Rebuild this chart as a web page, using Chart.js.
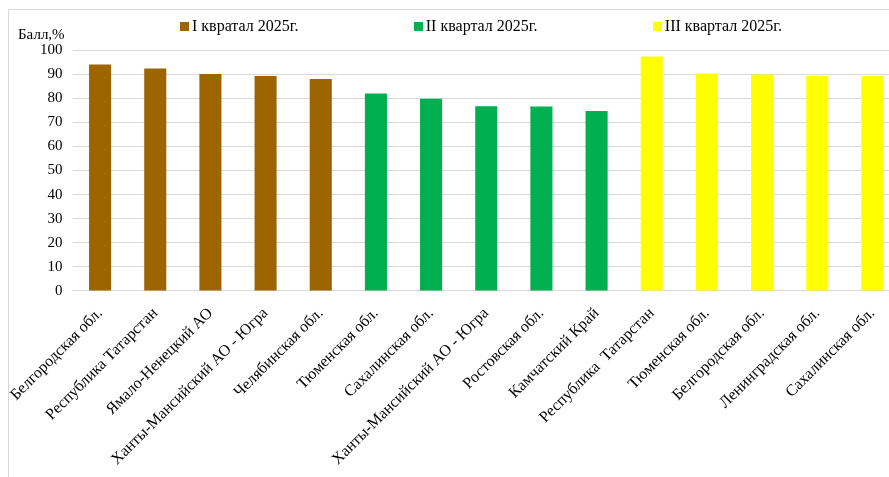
<!DOCTYPE html>
<html lang="ru">
<head>
<meta charset="utf-8">
<title>Балл по регионам, 2025</title>
<script src="https://cdn.jsdelivr.net/npm/chart.js@4"></script>
<style>
  html, body { margin: 0; padding: 0; background: #fff; overflow: hidden; }
  body { width: 889px; height: 477px; position: relative; font-family: "Liberation Serif", "DejaVu Serif", serif; }
  #frame { position: absolute; left: 8px; top: 9px; right: 0; bottom: 0; border-left: 1px solid #d9d9d9; border-top: 1px solid #d9d9d9; }
  #wrap { position: absolute; left: 0; top: 0; width: 905px; height: 477px; }
  #unit { position: absolute; left: 18px; top: 26px; font-size: 15px; color: #000; }
  #legend { position: absolute; left: 180px; width: 602px; top: 17px; display: flex; justify-content: space-between; font-size: 16px; color: #000; }
  #legend .item { display: flex; align-items: center; white-space: nowrap; }
  #legend .box { width: 9px; height: 9px; margin-right: 3px; }
</style>
</head>
<body>
<div id="frame"></div>
<div id="wrap"><canvas id="chart" width="905" height="477"></canvas></div>
<div id="unit">Балл,%</div>
<div id="legend"></div>
<script>
// Регионы по кварталам
const categories = [
  "Белгородская обл.", "Республика Татарстан", "Ямало-Ненецкий АО", "Ханты-Мансийский АО - Югра", "Челябинская обл.",
  "Тюменская обл.", "Сахалинская обл.", "Ханты-Мансийский АО - Югра", "Ростовская обл.", "Камчатский Край",
  "Республика  Татарстан", "Тюменская обл.", "Белгородская обл.", "Ленинградская обл.", "Сахалинская обл."
];
const seriesNames = ["I квратал 2025г.", "II квартал 2025г.", "III квартал 2025г."];
const seriesColors = ["#9c6500", "#00b050", "#ffff00"];

const q1Values = [94, 92.3, 90, 89.2, 88];
const q2Values = [81.9, 79.8, 76.7, 76.6, 74.7];
const q3Values = [97.3, 90.2, 89.8, 89.2, 89.2];

const yTicks = [0, 10, 20, 30, 40, 50, 60, 70, 80, 90, 100];

// each quarter occupies its own five categories, the rest stay empty
function place(values, offset) {
  const row = categories.map(() => null);
  values.forEach((v, i) => { row[offset + i] = v; });
  return row;
}
const seriesData = [place(q1Values, 0), place(q2Values, 5), place(q3Values, 10)];

const serif = "'Liberation Serif', 'DejaVu Serif', serif";

const ctx = document.getElementById('chart').getContext('2d');
const chart = new Chart(ctx, {
  type: 'bar',
  data: {
    labels: categories,
    datasets: seriesNames.map((name, i) => ({
      label: name,
      data: seriesData[i],
      backgroundColor: seriesColors[i],
      borderWidth: 0,
      barPercentage: 0.4,
      categoryPercentage: 1
    }))
  },
  options: {
    responsive: false,
    animation: false,
    layout: { padding: { left: 30, right: 5, top: 50, bottom: 3 } },
    plugins: {
      legend: { display: false },
      tooltip: { enabled: false }
    },
    scales: {
      x: {
        stacked: true,
        grid: { display: false },
        border: { color: '#d9d9d9' },
        ticks: {
          autoSkip: false,
          minRotation: 45,
          maxRotation: 45,
          padding: 5,
          color: '#000',
          font: { family: serif, size: 16 }
        }
      },
      y: {
        stacked: true,
        min: 0,
        max: 100,
        afterBuildTicks: axis => { axis.ticks = yTicks.map(v => ({ value: v })); },
        grid: { color: '#d9d9d9', drawTicks: false },
        border: { display: false },
        ticks: {
          padding: 10,
          color: '#000',
          font: { family: serif, size: 15 }
        }
      }
    }
  }
});

// легенда
const legend = document.getElementById('legend');
seriesNames.forEach((name, i) => {
  const item = document.createElement('div');
  item.className = 'item';
  item.innerHTML = `<span class="box" style="background:${seriesColors[i]}"></span><span>${name}</span>`;
  legend.appendChild(item);
});
</script>
</body>
</html>
